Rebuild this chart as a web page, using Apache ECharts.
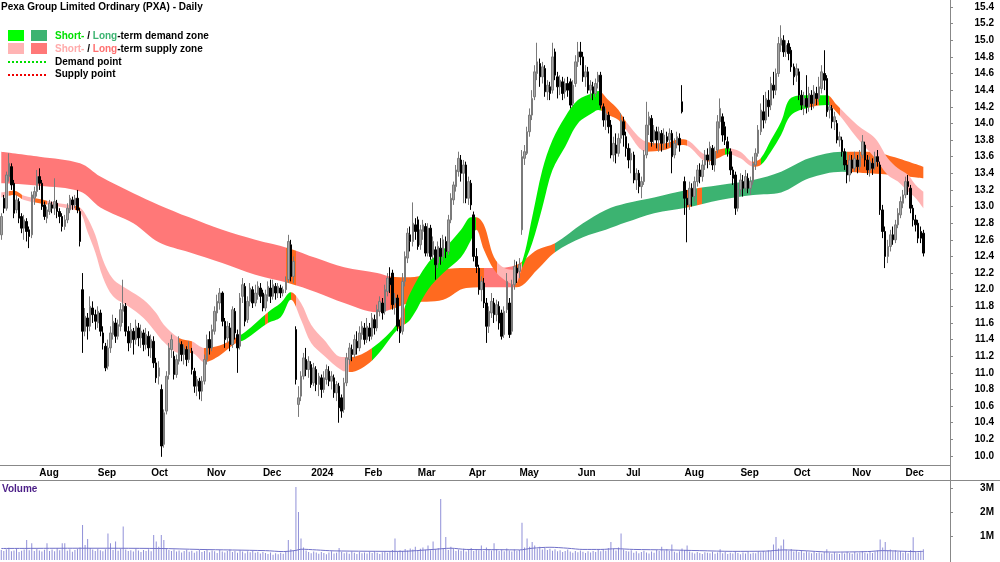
<!DOCTYPE html>
<html>
<head>
<meta charset="utf-8">
<title>PXA daily</title>
<script src="https://cdn.jsdelivr.net/npm/echarts@6/dist/echarts.min.js"></script>
<style>
  html, body { margin: 0; padding: 0; background: #fff; }
  #chart { width: 1000px; height: 562px; }
</style>
</head>
<body>
<div id="chart"></div>
<script>
// month labels: [label, index of first trading day]
var monthTicks = [['Aug',15],['Sep',38],['Oct',59],['Nov',81],['Dec',103],['2024',122],['Feb',143],['Mar',164],
  ['Apr',184],['May',204],['Jun',227],['Jul',246],['Aug',269],['Sep',291],['Oct',312],['Nov',335],['Dec',356]];
var priceTicks = [10.0,10.2,10.4,10.6,10.8,11.0,11.2,11.4,11.6,11.8,12.0,12.2,12.4,12.6,12.8,13.0,13.2,13.4,
  13.6,13.8,14.0,14.2,14.4,14.6,14.8,15.0,15.2,15.4];
var volumeTicks = [1, 2, 3];

// daily bars [open, close, low, high]
var ohlc = [
  // Jul 2023
  [12.66,12.88,12.60,12.92],[13.10,12.98,12.92,13.14],[12.98,13.38,12.95,13.42],[13.36,13.52,13.30,13.64],[13.48,13.26,13.20,13.52],
  [13.28,12.92,12.86,13.32],[12.96,13.08,12.92,13.14],[13.06,12.86,12.80,13.10],[12.88,12.74,12.68,12.92],[12.74,12.84,12.60,12.90],
  [12.82,12.70,12.58,12.86],[12.72,12.64,12.50,12.76],[12.66,13.14,12.62,13.18],[13.10,13.18,13.02,13.24],[13.18,13.36,13.12,13.44],
  // Aug
  [13.36,13.28,13.20,13.46],[13.28,13.00,12.96,13.32],[13.02,12.88,12.84,13.06],[12.86,12.96,12.80,13.00],[12.94,13.04,12.90,13.08],
  [13.02,12.98,12.92,13.06],[12.98,13.06,12.90,13.34],[13.04,12.94,12.86,13.08],[12.94,12.88,12.80,12.98],[12.88,12.76,12.70,12.92],
  [12.76,12.84,12.72,12.90],[12.84,12.98,12.80,13.04],[12.96,13.10,12.92,13.14],[13.08,13.02,12.96,13.12],[13.02,13.10,12.98,13.14],
  [13.10,12.96,12.92,13.20],[12.94,12.58,12.52,12.98],[12.00,11.50,11.24,12.20],[11.50,11.68,11.44,11.78],[11.66,11.56,11.40,11.72],
  [11.56,11.80,11.50,11.92],[11.78,11.70,11.60,11.86],[11.70,11.62,11.52,11.76],
  // Sep
  [11.60,11.74,11.54,11.80],[11.72,11.50,11.44,11.76],[11.48,11.36,11.28,11.56],[11.32,11.06,11.02,11.36],[11.08,11.30,11.04,11.40],
  [11.30,11.48,11.24,11.56],[11.46,11.62,11.40,11.70],[11.60,11.44,11.36,11.66],[11.44,11.58,11.40,11.64],[11.56,11.76,11.50,11.84],
  [11.74,11.82,11.60,12.12],[11.80,11.50,11.44,11.84],[11.50,11.36,11.26,11.56],[11.36,11.52,11.30,11.60],[11.50,11.40,11.22,11.54],
  [11.40,11.56,11.34,11.64],[11.54,11.42,11.32,11.60],[11.42,11.50,11.30,11.58],[11.48,11.34,11.26,11.52],[11.34,11.46,11.28,11.54],
  [11.44,11.30,11.20,11.50],
  // Oct
  [11.30,11.40,11.18,11.46],[11.38,11.12,11.06,11.44],[11.12,10.94,10.88,11.18],[10.96,11.06,10.86,11.14],[10.80,10.12,9.99,10.86],
  [10.14,10.52,10.10,10.56],[10.54,10.96,10.50,11.02],[10.98,11.30,10.92,11.36],[11.28,11.40,11.18,11.46],[11.20,10.98,10.92,11.26],
  [10.98,11.16,10.94,11.22],[11.14,11.36,11.10,11.44],[11.34,11.22,11.14,11.38],[11.22,11.30,11.10,11.34],[11.28,11.16,11.08,11.32],
  [11.16,11.28,11.12,11.38],[11.26,11.04,10.98,11.30],[11.02,10.84,10.76,11.06],[10.84,10.92,10.72,10.96],[10.90,10.78,10.68,10.94],
  [10.78,10.90,10.66,10.96],[10.90,11.16,10.86,11.22],
  // Nov
  [11.16,11.40,11.10,11.46],[11.40,11.30,11.22,11.50],[11.30,11.52,11.26,11.58],[11.50,11.74,11.46,11.80],[11.72,11.86,11.62,11.94],
  [11.84,11.96,11.76,12.02],[11.96,11.62,11.56,11.98],[11.62,11.40,11.30,11.66],[11.42,11.56,11.36,11.62],[11.54,11.34,11.26,11.60],
  [11.34,11.76,11.30,11.80],[11.74,11.48,11.40,11.78],[11.46,11.30,11.00,11.52],[11.32,11.90,11.28,11.96],[11.92,12.06,11.84,12.14],
  [12.04,11.62,11.56,12.08],[11.64,11.86,11.60,11.92],[11.86,12.02,11.80,12.08],[12.00,11.84,11.78,12.04],[11.84,11.96,11.80,12.06],
  [11.94,12.04,11.88,12.10],[12.02,11.92,11.84,12.08],
  // Dec
  [11.96,11.78,11.74,12.00],[11.78,11.94,11.74,12.00],[11.92,12.04,11.86,12.10],[12.02,11.92,11.84,12.12],[11.92,12.06,11.88,12.12],
  [12.04,11.96,11.88,12.08],[11.96,12.04,11.90,12.08],[12.02,11.96,11.90,12.06],[11.96,12.00,11.92,12.04],[12.00,12.10,11.96,12.16],
  [12.12,12.58,12.08,12.66],[12.54,12.16,12.10,12.60],[12.16,12.34,12.08,12.40],[11.52,10.92,10.86,11.56],[10.62,10.70,10.47,10.84],
  [10.72,10.96,10.66,11.02],[10.96,11.18,10.92,11.24],[11.16,11.04,10.96,11.30],[11.04,11.14,10.94,11.20],
  // Jan 2024
  [11.10,10.86,10.82,11.14],[10.88,11.06,10.84,11.12],[11.04,10.86,10.78,11.08],[10.86,10.96,10.72,11.00],[10.94,10.80,10.70,10.98],
  [10.80,10.94,10.76,11.02],[10.92,11.04,10.86,11.10],[11.02,10.90,10.84,11.08],[10.90,10.96,10.80,11.02],[10.94,10.76,10.70,10.98],
  [10.76,10.86,10.66,10.90],[10.84,10.58,10.40,10.88],[10.70,10.54,10.46,10.74],[10.56,10.88,10.52,10.94],[10.88,11.18,10.84,11.24],
  [11.16,11.30,11.10,11.36],[11.28,11.22,11.14,11.34],[11.22,11.40,11.18,11.46],[11.38,11.30,11.22,11.50],[11.30,11.48,11.26,11.56],
  [11.46,11.56,11.40,11.62],
  // Feb
  [11.54,11.40,11.34,11.60],[11.40,11.56,11.36,11.66],[11.54,11.44,11.38,11.60],[11.44,11.66,11.40,11.72],[11.64,11.54,11.46,11.70],
  [11.54,11.76,11.50,11.82],[11.74,11.86,11.68,11.92],[11.84,11.72,11.64,11.90],[11.74,12.00,11.70,12.06],[11.98,12.14,11.92,12.20],
  [12.14,12.06,11.96,12.27],[12.20,11.82,11.76,12.24],[11.84,11.90,11.70,11.96],[11.90,11.56,11.50,11.94],[11.56,11.48,11.36,11.64],
  [11.50,12.10,11.46,12.20],[12.10,12.40,12.04,12.46],[12.38,12.68,12.32,12.74],[12.66,12.58,12.46,12.76],[12.58,12.80,12.52,13.05],
  [12.78,12.70,12.60,12.86],
  // Mar
  [12.84,12.52,12.48,12.88],[12.54,12.72,12.48,12.78],[12.70,12.78,12.60,12.84],[12.76,12.44,12.40,12.80],[12.44,12.74,12.40,12.80],
  [12.74,12.40,12.36,12.78],[12.42,12.58,12.36,12.64],[12.48,12.30,12.12,12.52],[12.32,12.52,12.26,12.58],[12.50,12.40,12.30,12.62],
  [12.40,12.60,12.34,12.66],[12.58,12.46,12.38,12.64],[12.46,12.84,12.42,12.90],[12.84,13.10,12.80,13.16],[13.08,13.26,13.02,13.30],
  [13.24,13.44,13.18,13.50],[13.42,13.58,13.36,13.66],[13.56,13.40,13.30,13.62],[13.40,13.50,13.04,13.56],[13.50,13.10,13.04,13.54],
  // Apr
  [13.10,13.30,13.02,13.36],[13.28,13.02,12.96,13.32],[12.90,12.40,12.34,12.94],[12.40,12.28,12.20,12.50],[12.26,12.00,11.94,12.30],
  [12.00,12.10,11.86,12.16],[12.08,11.84,11.78,12.14],[11.84,11.56,11.36,11.90],[11.56,11.74,11.48,11.80],[11.72,11.86,11.66,11.96],
  [11.84,11.70,11.60,11.90],[11.70,11.82,11.62,11.88],[11.80,11.60,11.52,11.86],[11.72,11.44,11.40,11.76],[11.46,11.74,11.42,11.80],
  [11.76,12.10,11.72,12.20],[11.84,11.46,11.42,11.90],[11.50,12.06,11.46,12.12],[12.06,12.28,12.00,12.36],[12.26,12.20,12.08,12.34],
  // May
  [12.22,12.30,12.14,12.38],[12.72,13.60,12.66,13.68],[13.58,13.66,13.50,13.74],[13.64,13.90,13.62,13.96],[13.90,14.10,13.84,14.18],
  [14.10,14.30,14.04,14.40],[14.32,14.62,14.28,14.70],[14.60,14.74,14.52,14.97],[14.72,14.56,14.44,14.78],[14.56,14.68,14.48,14.74],
  [14.66,14.38,14.32,14.70],[14.38,14.46,14.28,14.52],[14.44,14.36,14.28,14.50],[14.40,14.80,14.36,14.97],[14.86,14.58,14.52,14.90],
  [14.56,14.44,14.30,14.62],[14.44,14.52,14.34,14.58],[14.50,14.36,14.28,14.56],[14.38,14.48,14.30,14.54],[14.48,14.40,14.32,14.56],
  [14.50,14.22,14.18,14.54],[14.24,14.46,14.20,14.52],[14.48,14.74,14.44,14.82],
  // Jun
  [14.74,14.86,14.68,14.98],[14.86,14.80,14.70,14.98],[14.80,14.56,14.50,14.86],[14.56,14.62,14.44,14.70],[14.62,14.40,14.36,14.68],
  [14.40,14.46,14.30,14.52],[14.44,14.36,14.28,14.50],[14.36,14.48,14.32,14.54],[14.50,14.58,14.42,14.62],[14.58,14.22,14.18,14.62],
  [14.20,14.04,13.96,14.24],[14.04,14.12,13.92,14.18],[14.10,13.96,13.88,14.14],[13.98,13.62,13.58,14.04],[13.62,13.76,13.54,13.84],
  [13.74,13.64,13.52,13.88],[13.64,13.82,13.60,13.88],[13.82,14.04,13.76,14.12],[14.02,13.86,13.72,14.08],
  // Jul
  [13.84,13.70,13.60,13.90],[13.70,13.56,13.46,13.76],[13.56,13.64,13.40,13.70],[13.62,13.32,13.28,13.66],[13.32,13.40,13.20,13.46],
  [13.40,13.24,13.16,13.44],[13.24,13.30,13.10,13.36],[13.30,13.62,13.26,13.68],[13.62,13.98,13.58,14.26],[13.98,14.08,13.86,14.14],
  [14.06,13.78,13.72,14.10],[13.80,13.92,13.74,13.98],[13.90,13.80,13.70,13.96],[13.80,13.90,13.66,13.96],[13.88,13.76,13.66,13.92],
  [13.76,13.86,13.68,13.94],[13.84,13.78,13.70,13.90],[13.80,13.88,13.72,13.94],[13.88,13.60,13.40,13.92],[13.62,13.76,13.58,13.82],
  [13.76,13.84,13.70,13.90],[13.82,13.74,13.66,13.88],[14.26,14.14,14.12,14.46],
  // Aug
  [13.30,13.10,12.90,13.36],[13.10,13.02,12.57,13.20],[13.02,13.22,12.96,13.30],[13.22,13.12,13.00,13.28],[13.12,13.30,13.06,13.36],
  [13.30,13.44,13.24,13.50],[13.44,13.36,13.28,13.52],[13.36,13.50,13.30,13.56],[13.50,13.62,13.44,13.68],[13.62,13.56,13.46,13.70],
  [13.56,13.72,13.50,13.78],[13.70,13.50,13.44,13.74],[13.50,13.66,13.42,13.72],[13.68,14.02,13.64,14.10],[14.02,14.18,13.94,14.30],
  [14.08,13.86,13.78,14.12],[13.96,13.80,13.74,14.02],[13.78,13.70,13.60,13.84],[13.66,13.44,13.38,13.70],[13.44,13.34,13.26,13.48],
  [13.38,12.98,12.90,13.42],[12.98,13.20,12.94,13.28],
  // Sep
  [13.20,13.32,13.14,13.40],[13.30,13.22,13.12,13.38],[13.22,13.36,13.18,13.44],[13.34,13.22,13.16,13.40],[13.22,13.30,13.14,13.36],
  [13.30,13.52,13.26,13.60],[13.50,13.64,13.44,13.70],[13.64,13.92,13.60,13.98],[13.90,14.16,13.86,14.24],[14.14,14.04,13.94,14.34],
  [14.04,14.30,14.00,14.38],[14.28,14.20,14.08,14.40],[14.22,14.48,14.16,14.56],[14.46,14.40,14.30,14.62],[14.40,14.60,14.34,14.66],
  [14.60,14.96,14.56,15.04],[14.94,15.02,14.86,15.18],[15.00,14.86,14.80,15.06],[14.86,14.94,14.80,15.00],[14.96,14.84,14.76,15.00],
  [14.88,14.68,14.62,14.92],
  // Oct
  [14.68,14.56,14.46,14.72],[14.58,14.66,14.50,14.72],[14.62,14.34,14.28,14.66],[14.34,14.22,14.16,14.40],[14.22,14.30,14.10,14.38],
  [14.30,14.20,14.12,14.58],[14.20,14.36,14.14,14.44],[14.34,14.24,14.16,14.40],[14.24,14.38,14.18,14.46],[14.36,14.30,14.22,14.44],
  [14.30,14.44,14.26,14.56],[14.42,14.62,14.36,14.70],[14.60,14.52,14.40,14.88],[14.54,14.14,14.08,14.58],[14.16,14.20,14.06,14.26],
  [14.18,14.02,13.94,14.22],[14.02,14.08,13.92,14.14],[14.00,13.80,13.76,14.04],[13.80,13.84,13.72,13.90],[13.80,13.66,13.60,13.84],
  [13.66,13.50,13.44,13.70],[13.50,13.38,13.28,13.56],[13.38,13.56,13.30,13.62],
  // Nov
  [13.56,13.46,13.40,13.62],[13.46,13.58,13.42,13.66],[13.56,13.48,13.40,13.62],[13.48,13.60,13.44,13.68],[13.62,13.78,13.58,13.86],
  [13.74,13.56,13.48,13.78],[13.56,13.44,13.38,13.62],[13.44,13.54,13.36,13.60],[13.52,13.46,13.38,13.58],[13.48,13.60,13.44,13.66],
  [13.60,13.54,13.48,13.68],[13.50,12.96,12.90,13.54],[12.96,12.70,12.62,13.02],[12.70,12.40,12.26,12.76],[12.40,12.52,12.32,12.60],
  [12.52,12.66,12.46,12.72],[12.66,12.60,12.54,12.76],[12.60,12.78,12.56,12.84],[12.78,12.92,12.74,12.98],[12.90,13.06,12.86,13.12],
  [13.04,13.14,12.98,13.20],
  // Dec
  [13.14,13.30,13.10,13.36],[13.30,13.24,13.14,13.38],[13.22,12.98,12.92,13.26],[12.98,12.84,12.76,13.02],[12.84,12.78,12.70,12.90],
  [12.80,12.62,12.56,12.84],[12.70,12.62,12.56,12.76],[12.68,12.44,12.40,12.72]
];

// daily volume, millions of shares
var volume = [
  0.42,0.38,0.45,0.51,0.36,0.40,0.47,0.33,0.39,0.44,0.83,0.41,0.70,0.37,0.46,0.40,0.35,0.43,0.70,0.38,
  0.44,0.36,0.49,0.41,0.70,0.70,0.39,0.45,0.34,0.42,0.48,0.52,1.46,0.62,0.87,0.50,0.44,0.38,0.47,0.41,
  0.36,0.45,1.10,0.70,0.42,0.77,0.39,0.46,1.40,0.44,0.37,0.41,0.35,0.48,0.40,0.33,0.42,0.38,0.45,0.36,
  1.04,0.77,0.55,1.04,0.83,0.48,0.42,0.37,0.44,0.35,0.40,0.31,0.38,0.43,0.34,0.39,0.30,0.36,0.42,0.33,
  0.38,0.45,0.32,0.40,0.36,0.29,0.42,0.35,0.31,0.38,0.44,0.33,0.37,0.30,0.41,0.35,0.28,0.36,0.32,0.39,
  0.30,0.34,0.27,0.33,0.29,0.25,0.31,0.22,0.28,0.24,0.30,0.26,0.35,0.83,0.45,0.38,3.04,2.00,0.90,0.52,
  0.40,0.33,0.28,0.35,0.31,0.26,0.33,0.29,0.24,0.31,0.36,0.27,0.30,0.50,0.34,0.28,0.32,0.26,0.35,0.30,
  0.25,0.33,0.28,0.31,0.27,0.34,0.29,0.36,0.30,0.25,0.32,0.38,0.30,0.35,0.42,0.90,0.33,0.41,0.37,0.46,
  0.40,0.48,0.44,0.55,0.39,0.47,0.52,0.43,0.60,0.41,0.77,0.45,0.50,2.54,0.48,0.96,0.42,0.55,0.46,0.38,
  0.44,0.39,0.47,0.35,0.42,0.50,0.38,0.46,0.41,0.60,0.37,0.52,0.44,0.40,0.70,0.45,0.38,0.43,0.36,0.48,
  0.40,0.35,0.45,0.38,0.42,1.55,0.52,0.90,0.55,0.75,0.60,0.48,0.55,0.44,0.50,0.42,0.47,0.39,0.45,0.36,
  0.41,0.33,0.38,0.44,0.35,0.30,0.37,0.32,0.40,0.34,0.29,0.36,0.31,0.38,0.33,0.42,0.36,0.45,0.39,0.50,
  0.75,0.47,0.40,0.52,1.10,0.44,0.38,0.35,0.41,0.30,0.36,0.28,0.33,0.39,0.31,0.27,0.35,0.30,0.42,0.37,
  0.55,0.40,0.46,0.38,0.65,0.34,0.30,0.36,0.48,0.42,0.60,0.35,0.31,0.27,0.33,0.29,0.25,0.32,0.30,0.28,
  0.34,0.26,0.31,0.45,0.28,0.33,0.25,0.30,0.27,0.35,0.29,0.24,0.31,0.27,0.33,0.26,0.30,0.28,0.36,0.32,
  0.38,0.34,0.41,0.37,0.65,0.96,0.48,0.60,0.85,0.44,0.39,0.46,0.35,0.41,0.33,0.38,0.30,0.36,0.32,0.28,
  0.34,0.29,0.31,0.27,0.33,0.45,0.30,0.26,0.32,0.28,0.25,0.31,0.27,0.34,0.29,0.26,0.33,0.28,0.31,0.36,
  0.30,0.27,0.33,0.29,0.35,0.40,0.85,0.52,0.75,0.40,0.44,0.36,0.41,0.33,0.38,0.30,0.35,0.28,0.42,0.95,
  0.36,0.31,0.39,0.45
];

// volume average line read at points: [day index, millions]
var volumeAvg = [[0,0.48],[30,0.49],[62,0.48],[78,0.44],[104,0.39],[111,0.35],[116,0.40],[118,0.45],[124,0.42],
  [131,0.38],[157,0.36],[170,0.44],[177,0.49],[183,0.44],[196,0.43],[204,0.42],[209,0.49],[216,0.53],[223,0.49],
  [229,0.44],[236,0.44],[242,0.47],[249,0.44],[262,0.42],[275,0.39],[288,0.36],[301,0.37],[308,0.42],[314,0.40],
  [327,0.33],[341,0.35],[347,0.39],[360,0.35],[363,0.36]];

// long-term zone band: [day index, lower, upper]
var longBand = [[0,13.28,13.66],[15,13.25,13.60],[31,13.18,13.52],[39,12.99,13.36],[52,12.80,13.16],[62,12.57,13.02],
  [74,12.45,12.87],[87,12.32,12.72],[100,12.18,12.60],[113,12.08,12.50],[124,11.97,12.38],[135,11.84,12.27],
  [148,11.73,12.20],[153,11.76,12.16],[161,11.84,12.15],[174,11.88,12.24],[183,12.02,12.26],[194,12.03,12.26],
  [203,12.03,12.30],[211,12.24,12.48],[218,12.45,12.56],[229,12.63,12.80],[238,12.72,12.96],[246,12.81,13.04],
  [257,12.92,13.11],[270,12.99,13.20],[283,13.08,13.26],[296,13.14,13.32],[307,13.17,13.42],[318,13.34,13.58],
  [331,13.42,13.66],[342,13.40,13.66],[351,13.38,13.60],[363,13.34,13.48]];
// [from day, to day, state]
var longZones = [[0,112,'supply'],[112,116,'mixed'],[116,153,'supply'],[153,190,'mixed'],[190,202,'supply'],
  [202,218,'mixed'],[218,270,'demand'],[270,272,'mixed'],[272,274,'demand'],[274,276,'mixed'],[276,333,'demand'],
  [333,364,'mixed']];

// short-term zone band: [day index, lower, upper]
var shortBand = [[0,13.11,13.17],[5,13.14,13.19],[9,13.08,13.13],[15,13.04,13.09],[21,13.01,13.05],[27,12.97,13.02],
  [31,12.93,12.99],[34,12.69,12.86],[37,12.45,12.66],[40,12.15,12.36],[44,11.92,12.13],[50,11.80,12.00],
  [56,11.66,11.88],[61,11.48,11.72],[64,11.37,11.58],[70,11.24,11.42],[75,11.24,11.38],[80,11.13,11.30],
  [86,11.21,11.33],[92,11.35,11.42],[96,11.40,11.49],[105,11.60,11.73],[110,11.67,11.84],[114,11.88,11.97],
  [118,11.64,11.84],[122,11.36,11.58],[127,11.21,11.40],[134,11.03,11.19],[137,11.01,11.19],[146,11.15,11.30],
  [156,11.52,11.60],[161,11.64,11.96],[168,12.00,12.32],[174,12.20,12.48],[181,12.39,12.72],[185,12.60,12.87],
  [187,12.72,12.87],[190,12.48,12.78],[194,12.24,12.39],[198,12.12,12.26],[202,12.06,12.24],[205,12.26,12.33],
  [209,12.56,12.87],[213,12.99,13.44],[217,13.44,13.80],[222,13.72,14.08],[227,14.00,14.28],[233,14.13,14.37],
  [235,14.16,14.39],[239,14.10,14.28],[243,14.04,14.16],[246,13.92,14.02],[254,13.66,13.78],[261,13.68,13.76],
  [267,13.74,13.81],[270,13.73,13.80],[278,13.54,13.62],[282,13.58,13.68],[286,13.63,13.70],[291,13.58,13.66],
  [296,13.48,13.54],[299,13.50,13.58],[303,13.66,13.80],[307,13.86,14.02],[311,14.10,14.31],[318,14.19,14.34],
  [325,14.22,14.34],[329,14.13,14.22],[337,13.82,13.98],[344,13.58,13.82],[349,13.38,13.58],[353,13.30,13.46],
  [357,13.18,13.38],[360,13.10,13.26],[363,12.98,13.18]];
var shortZones = [[0,3,'supply'],[3,8,'mixed'],[8,13,'supply'],[13,18,'mixed'],[18,29,'supply'],[29,31,'mixed'],
  [31,70,'supply'],[70,75,'mixed'],[75,80,'supply'],[80,94,'mixed'],[94,104,'demand'],[104,105,'mixed'],
  [105,114,'demand'],[114,116,'mixed'],[116,137,'supply'],[137,146,'mixed'],[146,156,'demand'],[156,159,'mixed'],
  [159,187,'demand'],[187,195,'mixed'],[195,205,'supply'],[205,236,'demand'],[236,246,'mixed'],[246,254,'supply'],
  [254,270,'mixed'],[270,278,'supply'],[278,285,'mixed'],[285,287,'demand'],[287,296,'supply'],[296,299,'mixed'],
  [299,318,'demand'],[318,322,'mixed'],[322,326,'demand'],[326,330,'mixed'],[330,364,'supply']];

var FONT = '"Liberation Sans", Arial, sans-serif';
var ORANGE = '#ff6a1f';
var longColors = {supply: '#ff7878', demand: '#3cb371', mixed: ORANGE};
var shortColors = {supply: '#ffb4b4', demand: '#00ee00', mixed: ORANGE};

// 364 trading days plus empty room on the right
var slotCount = 374;
var slots = [];
for (var i = 0; i < slotCount; i++) slots.push(String(i));
var tickName = {};
monthTicks.forEach(function (m) { tickName[m[1]] = m[0]; });

function zonePieces (zones, colors) {
  return zones.map(function (z) { return {gte: z[0], lt: z[1], color: colors[z[2]]}; });
}
function bandSeries (band, stackName) {
  return [{
    type: 'line', stack: stackName, smooth: 0.35, symbol: 'none', silent: true,
    data: band.map(function (k) { return [k[0], k[1]]; }),
    lineStyle: {opacity: 0}
  }, {
    type: 'line', stack: stackName, smooth: 0.35, symbol: 'none', silent: true,
    data: band.map(function (k) { return [k[0], +(k[2] - k[1]).toFixed(3)]; }),
    lineStyle: {width: 0},
    areaStyle: {opacity: 1}
  }];
}

var myChart = echarts.init(document.getElementById('chart'));
var axisGrey = '#888';
var labelStyle = {color: '#000', fontSize: 10, fontWeight: 'bold', fontFamily: FONT};

var option = {
  animation: false,
  grid: [
    {left: 0, right: 50, top: 0, height: 465},
    {left: 0, right: 50, top: 481, height: 79}
  ],
  xAxis: [{
    type: 'category', gridIndex: 0, data: slots,
    axisLine: {lineStyle: {color: axisGrey}},
    axisTick: {length: 3, interval: function (idx) { return tickName[idx] !== undefined; }, lineStyle: {color: axisGrey}},
    axisLabel: Object.assign({
      interval: function (idx) { return tickName[idx] !== undefined; },
      formatter: function (v, idx) { return tickName[idx] || ''; },
      align: 'left', margin: 3
    }, labelStyle),
    splitLine: {show: false}
  }, {
    type: 'category', gridIndex: 1, data: slots, show: false
  }],
  yAxis: [{
    type: 'value', gridIndex: 0, position: 'right',
    min: 9.8918, max: 15.4841,
    axisLine: {show: false},
    axisTick: {show: true, length: 3, customValues: priceTicks, lineStyle: {color: axisGrey}},
    axisLabel: Object.assign({
      customValues: priceTicks, align: 'right', margin: 44,
      formatter: function (v) { return v.toFixed(1); }
    }, labelStyle),
    splitLine: {show: false}
  }, {
    type: 'value', gridIndex: 1, position: 'right',
    min: 0, max: 3.29,
    axisLine: {show: false},
    axisTick: {show: true, length: 3, customValues: volumeTicks, lineStyle: {color: axisGrey}},
    axisLabel: Object.assign({
      customValues: volumeTicks, align: 'right', margin: 44,
      formatter: function (v) { return v + 'M'; }
    }, labelStyle),
    splitLine: {show: false}
  }],
  visualMap: [
    {type: 'piecewise', show: false, dimension: 0, seriesIndex: 1, pieces: zonePieces(longZones, longColors)},
    {type: 'piecewise', show: false, dimension: 0, seriesIndex: 3, pieces: zonePieces(shortZones, shortColors)}
  ],
  series: bandSeries(longBand, 'long').concat(bandSeries(shortBand, 'short')).concat([{
    type: 'candlestick', name: 'PXA', data: ohlc, barWidth: 2, z: 5,
    itemStyle: {color: '#a6a6a6', color0: '#000', borderColor: '#7a7a7a', borderColor0: '#000', borderWidth: 1}
  }, {
    type: 'bar', name: 'Volume', xAxisIndex: 1, yAxisIndex: 1, data: volume, barWidth: 1,
    itemStyle: {color: '#9090d8'}
  }, {
    type: 'line', xAxisIndex: 1, yAxisIndex: 1, data: volumeAvg, smooth: 0.3, symbol: 'none',
    lineStyle: {color: '#7070c8', width: 1}
  }]),
  graphic: [
    {type: 'line', shape: {x1: 950.5, y1: 0, x2: 950.5, y2: 562}, style: {stroke: axisGrey, lineWidth: 1}},
    {type: 'line', shape: {x1: 0, y1: 480.5, x2: 1000, y2: 480.5}, style: {stroke: axisGrey, lineWidth: 1}},
    {type: 'text', x: 1, y: 2, style: {text: 'Pexa Group Limited Ordinary (PXA) - Daily', font: 'bold 10px ' + FONT, fill: '#000'}},
    {type: 'rect', shape: {x: 8, y: 30, width: 16, height: 11}, style: {fill: '#00ff00'}},
    {type: 'rect', shape: {x: 31, y: 30, width: 16, height: 11}, style: {fill: '#3cb371'}},
    {type: 'rect', shape: {x: 8, y: 43, width: 16, height: 11}, style: {fill: '#ffb4b4'}},
    {type: 'rect', shape: {x: 31, y: 43, width: 16, height: 11}, style: {fill: '#ff7878'}},
    {type: 'line', shape: {x1: 8, y1: 62, x2: 48, y2: 62}, style: {stroke: '#00dd00', lineWidth: 2, lineDash: [2, 2]}},
    {type: 'line', shape: {x1: 8, y1: 75, x2: 48, y2: 75}, style: {stroke: '#ee0000', lineWidth: 2, lineDash: [2, 2]}},
    {type: 'text', x: 55, y: 36, style: {
      text: '{a|Short-}{k| / }{b|Long}{k|-term demand zone}', verticalAlign: 'middle',
      rich: {
        a: {fill: '#00e000', font: 'bold 10px ' + FONT},
        b: {fill: '#3cb371', font: 'bold 10px ' + FONT},
        k: {fill: '#000', font: 'bold 10px ' + FONT}
      }
    }},
    {type: 'text', x: 55, y: 49, style: {
      text: '{a|Short-}{k| / }{b|Long}{k|-term supply zone}', verticalAlign: 'middle',
      rich: {
        a: {fill: '#ffaaaa', font: 'bold 10px ' + FONT},
        b: {fill: '#ff6f6f', font: 'bold 10px ' + FONT},
        k: {fill: '#000', font: 'bold 10px ' + FONT}
      }
    }},
    {type: 'text', x: 55, y: 62, style: {text: 'Demand point', verticalAlign: 'middle', font: 'bold 10px ' + FONT, fill: '#000'}},
    {type: 'text', x: 55, y: 74, style: {text: 'Supply point', verticalAlign: 'middle', font: 'bold 10px ' + FONT, fill: '#000'}},
    {type: 'text', x: 2, y: 489, style: {text: 'Volume', verticalAlign: 'middle', font: 'bold 10px ' + FONT, fill: '#4b1e87'}}
  ]
};
myChart.setOption(option);
window.onresize = function () {
  myChart.resize();
};
</script>
</body>
</html>
